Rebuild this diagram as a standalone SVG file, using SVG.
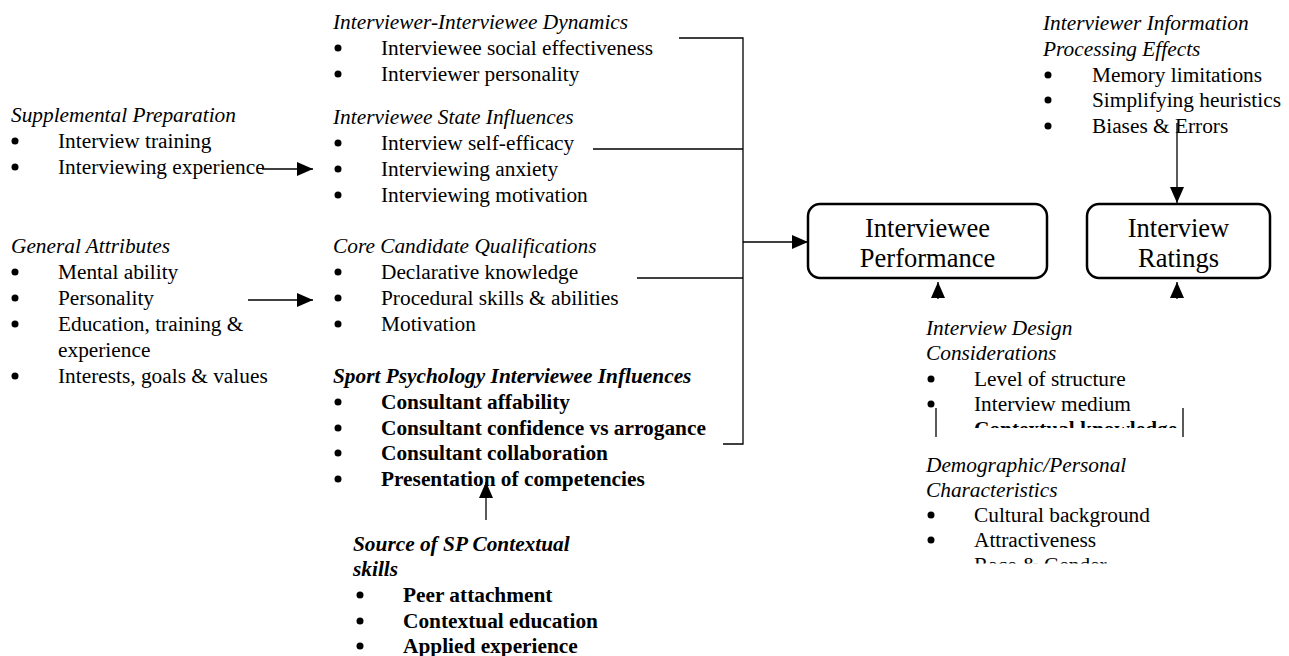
<svg xmlns="http://www.w3.org/2000/svg" width="1289" height="656" viewBox="0 0 1289 656">
<style>
text{font-family:"Liberation Serif","Times New Roman",serif;font-size:21.33px;fill:#000}
.h{font-style:italic}
.hb{font-style:italic;font-weight:bold}
.bd{font-weight:bold}
.box{font-size:26.5px}
.ln{stroke:#000;stroke-width:1.3;fill:none}
.nd{fill:#fff;stroke:#000;stroke-width:2.5}
circle{fill:#000}
</style>
<defs>
<marker id="ah" viewBox="0 0 16 14" refX="16" refY="7" markerWidth="16" markerHeight="14" markerUnits="userSpaceOnUse" orient="auto">
<path d="M0,0 L16,7 L0,14 Z" fill="#000"/>
</marker>
<clipPath id="c1"><rect x="900" y="400" width="300" height="28"/></clipPath>
<clipPath id="c2"><rect x="900" y="540" width="300" height="23.5"/></clipPath>
</defs>

<g id="connectors">
<line class="ln" x1="262" y1="169" x2="313" y2="169" marker-end="url(#ah)"/>
<line class="ln" x1="248" y1="300" x2="313" y2="300" marker-end="url(#ah)"/>
<polyline class="ln" points="679,38 743,38 743,444 723,444"/>
<line class="ln" x1="593" y1="149" x2="743" y2="149"/>
<line class="ln" x1="637" y1="278" x2="743" y2="278"/>
<line class="ln" x1="743" y1="242" x2="808" y2="242" marker-end="url(#ah)"/>
<line class="ln" x1="1177" y1="123" x2="1177" y2="203" marker-end="url(#ah)"/>
<line class="ln" x1="938" y1="299" x2="938" y2="282" marker-end="url(#ah)"/>
<line class="ln" x1="1177" y1="299" x2="1177" y2="282" marker-end="url(#ah)"/>
<line class="ln" x1="936" y1="408" x2="936" y2="437"/>
<line class="ln" x1="1183" y1="408" x2="1183" y2="437"/>
<line class="ln" x1="486" y1="520" x2="486" y2="482" marker-end="url(#ah)"/>
</g>

<g id="supplemental-preparation">
<text class="h" x="11" y="122">Supplemental Preparation</text>
<circle cx="15" cy="141" r="3.5"/><text x="58" y="148">Interview training</text>
<circle cx="15" cy="167" r="3.5"/><text x="58" y="174">Interviewing experience</text>
</g>

<g id="general-attributes">
<text class="h" x="11" y="253">General Attributes</text>
<circle cx="15" cy="272" r="3.5"/><text x="58" y="279">Mental ability</text>
<circle cx="15" cy="298" r="3.5"/><text x="58" y="305">Personality</text>
<circle cx="15" cy="324" r="3.5"/><text x="58" y="331">Education, training &amp;</text>
<text x="58" y="357">experience</text>
<circle cx="15" cy="376" r="3.5"/><text x="58" y="383">Interests, goals &amp; values</text>
</g>

<g id="dynamics">
<text class="h" x="333" y="29">Interviewer-Interviewee Dynamics</text>
<circle cx="338" cy="48" r="3.5"/><text x="381" y="55">Interviewee social effectiveness</text>
<circle cx="338" cy="74" r="3.5"/><text x="381" y="81">Interviewer personality</text>
</g>

<g id="state-influences">
<text class="h" x="333" y="124">Interviewee State Influences</text>
<circle cx="338" cy="143" r="3.5"/><text x="381" y="150">Interview self-efficacy</text>
<circle cx="338" cy="169" r="3.5"/><text x="381" y="176">Interviewing anxiety</text>
<circle cx="338" cy="195" r="3.5"/><text x="381" y="202">Interviewing motivation</text>
</g>

<g id="core-qualifications">
<text class="h" x="333" y="253">Core Candidate Qualifications</text>
<circle cx="338" cy="272" r="3.5"/><text x="381" y="279">Declarative knowledge</text>
<circle cx="338" cy="298" r="3.5"/><text x="381" y="305">Procedural skills &amp; abilities</text>
<circle cx="338" cy="324" r="3.5"/><text x="381" y="331">Motivation</text>
</g>

<g id="sport-psychology">
<text class="hb" x="333" y="383">Sport Psychology Interviewee Influences</text>
<circle cx="338" cy="402" r="3.5"/><text class="bd" x="381" y="409">Consultant affability</text>
<circle cx="338" cy="428" r="3.5"/><text class="bd" x="381" y="435">Consultant confidence vs arrogance</text>
<circle cx="338" cy="453" r="3.5"/><text class="bd" x="381" y="460">Consultant collaboration</text>
<circle cx="338" cy="479" r="3.5"/><text class="bd" x="381" y="486">Presentation of competencies</text>
</g>

<g id="sp-contextual-skills">
<text class="hb" x="353" y="551">Source of SP Contextual</text>
<text class="hb" x="353" y="576">skills</text>
<circle cx="360" cy="595" r="3.5"/><text class="bd" x="403" y="602">Peer attachment</text>
<circle cx="360" cy="621" r="3.5"/><text class="bd" x="403" y="628">Contextual education</text>
<circle cx="360" cy="646" r="3.5"/><text class="bd" x="403" y="653">Applied experience</text>
</g>

<g id="interviewee-performance">
<rect class="nd" x="808" y="204" width="239" height="74" rx="12"/>
<text class="box" x="927.5" y="237" text-anchor="middle">Interviewee</text>
<text class="box" x="927.5" y="267" text-anchor="middle">Performance</text>
</g>

<g id="interview-ratings">
<rect class="nd" x="1087" y="204" width="183" height="74" rx="12"/>
<text class="box" x="1178.5" y="237" text-anchor="middle">Interview</text>
<text class="box" x="1178.5" y="267" text-anchor="middle">Ratings</text>
</g>

<g id="information-processing">
<text class="h" x="1043" y="30">Interviewer Information</text>
<text class="h" x="1043" y="56">Processing Effects</text>
<circle cx="1048" cy="75" r="3.5"/><text x="1092" y="82">Memory limitations</text>
<circle cx="1048" cy="100" r="3.5"/><text x="1092" y="107">Simplifying heuristics</text>
<circle cx="1048" cy="126" r="3.5"/><text x="1092" y="133">Biases &amp; Errors</text>
</g>

<g id="design-considerations">
<text class="h" x="926" y="335">Interview Design</text>
<text class="h" x="926" y="360">Considerations</text>
<circle cx="931" cy="379" r="3.5"/><text x="974" y="386">Level of structure</text>
<circle cx="931" cy="404" r="3.5"/><text x="974" y="411">Interview medium</text>
<text class="bd" x="974" y="436" clip-path="url(#c1)">Contextual knowledge</text>
</g>

<g id="demographic-characteristics">
<text class="h" x="926" y="472">Demographic/Personal</text>
<text class="h" x="926" y="497">Characteristics</text>
<circle cx="931" cy="515" r="3.5"/><text x="974" y="522">Cultural background</text>
<circle cx="931" cy="540" r="3.5"/><text x="974" y="547">Attractiveness</text>
<text x="974" y="572" clip-path="url(#c2)">Race &amp; Gender</text>
</g>
</svg>
